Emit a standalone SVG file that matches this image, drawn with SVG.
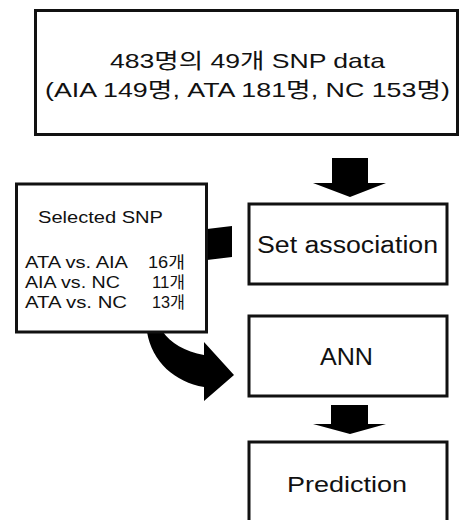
<svg xmlns="http://www.w3.org/2000/svg" width="459" height="520" viewBox="0 0 459 520">
<style>
.box{fill:#fff;stroke:#111;stroke-width:3}
.t{font-family:"Liberation Sans","Noto Sans CJK KR",sans-serif;fill:#111}
.arr{fill:#000}
</style>
<rect width="459" height="520" fill="#fff"/>
<g id="connectors">
<path class="arr" d="M232,226 L207,229 C140,235 130,290 147,332 C152,362 175,382 204,387 L204,401 L234,375 L204,342 L204,355 C185,352 170,342 163,332 C150,300 170,262 207,260 L232,257 Z"/>
<polygon class="arr" points="332,158 368,158 368,183 386,183 350,197 313,183 332,183"/>
<polygon class="arr" points="331,405 368,405 368,424 386,424 350,434 313,424 331,424"/>
</g>
<g id="input">
<rect class="box" x="35.5" y="10.5" width="422" height="124"/>
<text class="t" x="110" y="68" font-size="21" textLength="275" lengthAdjust="spacingAndGlyphs">483명의 49개 SNP data</text>
<text class="t" x="45" y="97" font-size="21" textLength="405" lengthAdjust="spacingAndGlyphs">(AIA 149명, ATA 181명, NC 153명)</text>
</g>
<g id="selected">
<rect class="box" x="16.5" y="184" width="190" height="148"/>
<text class="t" x="38" y="223" font-size="16" textLength="125" lengthAdjust="spacingAndGlyphs">Selected SNP</text>
<text class="t" x="25" y="268" font-size="16" textLength="103" lengthAdjust="spacingAndGlyphs">ATA vs. AIA</text>
<text class="t" x="148" y="268" font-size="16" textLength="37" lengthAdjust="spacingAndGlyphs">16개</text>
<text class="t" x="25" y="288" font-size="16" textLength="95" lengthAdjust="spacingAndGlyphs">AIA vs. NC</text>
<text class="t" x="152" y="288" font-size="16" textLength="33" lengthAdjust="spacingAndGlyphs">11개</text>
<text class="t" x="25" y="308" font-size="16" textLength="102" lengthAdjust="spacingAndGlyphs">ATA vs. NC</text>
<text class="t" x="152" y="308" font-size="16" textLength="33" lengthAdjust="spacingAndGlyphs">13개</text>
</g>
<g id="set-association">
<rect class="box" x="249" y="204" width="198" height="80"/>
<text class="t" x="257" y="253" font-size="23" textLength="181" lengthAdjust="spacingAndGlyphs">Set association</text>
</g>
<g id="ann">
<rect class="box" x="249" y="316" width="198" height="80"/>
<text class="t" x="320" y="365" font-size="23" textLength="53" lengthAdjust="spacingAndGlyphs">ANN</text>
</g>
<g id="prediction">
<rect class="box" x="249" y="442" width="198" height="100"/>
<text class="t" x="287" y="492" font-size="22" textLength="120" lengthAdjust="spacingAndGlyphs">Prediction</text>
</g>
</svg>
